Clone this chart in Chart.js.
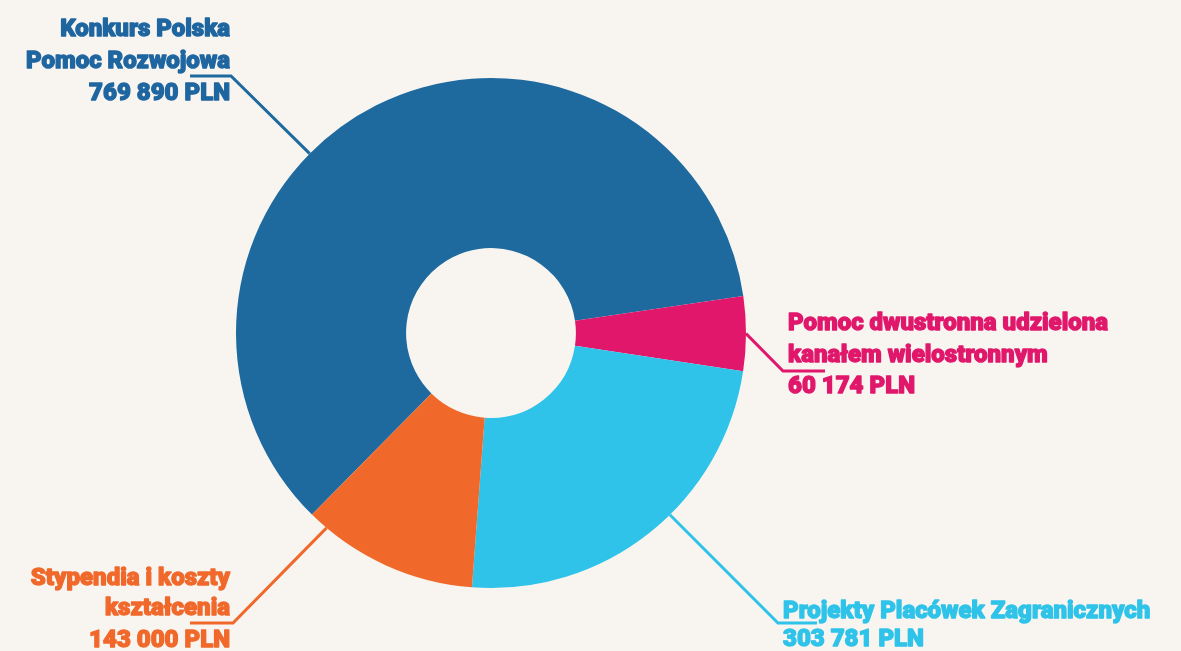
<!DOCTYPE html>
<html>
<head>
<meta charset="utf-8">
<script src="https://cdn.jsdelivr.net/npm/chart.js@4"></script>
<style>
  html, body { margin: 0; padding: 0; background: #f8f5f1; }
  #wrap { width: 1181px; height: 651px; position: relative; }
</style>
</head>
<body>
<div id="wrap"><canvas id="c" width="1181" height="651"></canvas></div>
<script>
// ---- data ----
const categories = [
  ["Konkurs Polska", "Pomoc Rozwojowa"],
  ["Pomoc dwustronna udzielona", "kanałem wielostronnym"],
  ["Projekty Placówek Zagranicznych"],
  ["Stypendia i koszty", "kształcenia"]
];
const values = [769890, 60174, 303781, 143000];
const currency = "PLN";

// ---- styles ----
const colors = ["#1e6a9f", "#e0176b", "#2fc3e9", "#f0692b"];
const textColors = ["#1f66a0", "#e0176b", "#2fc3e9", "#f0692b"];

// label layout (offsets relative to doughnut centre)
const labelLayout = [
  { frac: 0.415, elbow: [-260, -257], end: [-301, -257], align: "right", tx: -261, baselines: [-297, -265, -233] },
  { frac: 0.5,   elbow: [292, 38],    end: [334, 38],    align: "left",  tx: 297,  baselines: [-3, 29, 60] },
  { frac: 0.43,  elbow: [287, 290],   end: [326, 290],   align: "left",  tx: 292,  baselines: [285, 313] },
  { frac: 0.89,  elbow: [-258, 290],  end: [-301, 290],  align: "right", tx: -261, baselines: [252, 282, 314] }
];
const labelFont = "900 24px Roboto";

function fmt(v) {
  return String(v).replace(/\B(?=(\d{3})+(?!\d))/g, " ") + " " + currency;
}

const leaderPlugin = {
  id: "leaders",
  afterDatasetsDraw(chart) {
    const ctx = chart.ctx;
    const arcs = chart.getDatasetMeta(0).data;
    arcs.forEach((arc, i) => {
      const p = arc.getProps(["x", "y", "startAngle", "endAngle", "outerRadius"], true);
      const L = labelLayout[i];
      const a = p.startAngle + L.frac * (p.endAngle - p.startAngle);
      const ax = p.x + Math.cos(a) * p.outerRadius;
      const ay = p.y + Math.sin(a) * p.outerRadius;
      ctx.save();
      ctx.strokeStyle = colors[i];
      ctx.lineWidth = 3;
      ctx.lineJoin = "miter";
      ctx.beginPath();
      ctx.moveTo(ax, ay);
      ctx.lineTo(p.x + L.elbow[0], p.y + L.elbow[1]);
      ctx.lineTo(p.x + L.end[0], p.y + L.end[1]);
      ctx.stroke();
      ctx.fillStyle = textColors[i];
      ctx.strokeStyle = textColors[i];
      ctx.lineWidth = 1.3;
      ctx.lineJoin = "round";
      ctx.font = labelFont;
      ctx.textAlign = L.align;
      ctx.textBaseline = "alphabetic";
      const lines = categories[i].concat([fmt(values[i])]);
      lines.forEach((t, k) => {
        ctx.fillText(t, p.x + L.tx, p.y + L.baselines[k]);
        ctx.strokeText(t, p.x + L.tx, p.y + L.baselines[k]);
      });
      ctx.restore();
    });
  }
};

document.fonts.load(labelFont).then(() => {
new Chart(document.getElementById("c"), {
  type: "doughnut",
  data: {
    labels: categories.map(c => c.join(" ")),
    datasets: [{
      data: values,
      backgroundColor: colors,
      borderWidth: 0,
      hoverOffset: 0,
      offset: 0
    }]
  },
  options: {
    responsive: false,
    devicePixelRatio: 1,
    animation: false,
    rotation: 224.6,
    radius: 255,
    cutout: "33.3%",
    layout: { padding: { left: 0, right: 199, top: 15, bottom: 0 } },
    plugins: {
      legend: { display: false },
      tooltip: { enabled: false }
    }
  },
  plugins: [leaderPlugin]
});
});
</script>
</body>
</html>
